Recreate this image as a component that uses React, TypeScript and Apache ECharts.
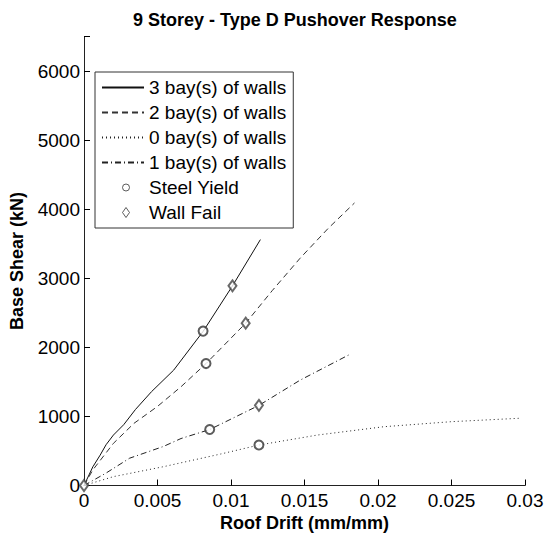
import React, { useEffect, useRef } from "react";
import * as echarts from "echarts";

const titleText = "9 Storey - Type D Pushover Response";
const xAxisName = "Roof Drift (mm/mm)";
const yAxisName = "Base Shear (kN)";

const curveNames = ["3 bay(s) of walls", "2 bay(s) of walls", "0 bay(s) of walls", "1 bay(s) of walls"];
const markerNames = ["Steel Yield", "Wall Fail"];

const bays3: number[][] = [
  [0, 0], [0.0006, 270], [0.0011, 440], [0.0015, 590], [0.002, 730], [0.0027, 880],
  [0.0035, 1100], [0.0046, 1360], [0.0061, 1670], [0.0081, 2230], [0.0101, 2890], [0.012, 3560],
];
const bays2: number[][] = [
  [0, 0], [0.0006, 225], [0.002, 610], [0.0034, 900], [0.005, 1145], [0.0066, 1430],
  [0.0083, 1765], [0.011, 2350], [0.0128, 2820], [0.0147, 3290], [0.0166, 3720], [0.0184, 4090],
];
const bays0: number[][] = [
  [0, 0], [0.002, 128], [0.0054, 272], [0.0093, 456], [0.0119, 586], [0.0159, 731],
  [0.0204, 851], [0.025, 924], [0.0296, 973],
];
const bays1: number[][] = [
  [0, 0], [0.0015, 180], [0.0031, 395], [0.0054, 565], [0.0066, 680], [0.00855, 810],
  [0.0119, 1160], [0.0147, 1525], [0.0181, 1900],
];
const steelYield: number[][] = [[0.0081, 2235], [0.0083, 1765], [0.0119, 586], [0.00855, 810]];
const wallFail: number[][] = [[0.0101, 2890], [0.011, 2350], [0, 0], [0.0119, 1160]];

const yTickMax = 6000;

const FONT = "'Liberation Sans', Arial, Helvetica, sans-serif";

// legend marker icons: invisible moveTo corners fix the icon box to the legend item box (42 x 12)
const circleIcon = "path://M0,0M42,12M27.5,6A3.5,3.5 0 1 1 20.5,6A3.5,3.5 0 1 1 27.5,6Z";
const diamondIcon = "path://M0,0M42,12M24,1L27.5,6L24,11L20.5,6Z";

export default function App() {
  const ref = useRef<HTMLDivElement>(null);
  useEffect(() => {
    if (!ref.current) return;
    const chart = echarts.init(ref.current, undefined, { renderer: "svg" });
    const lineDash: any[] = ["solid", [6, 4], [1, 3], [6, 3, 1, 3]];
    const lineColor = ["#111", "#333", "#222", "#222"];
    const curves = [bays3, bays2, bays0, bays1];
    const markerStyle = { color: "rgba(0,0,0,0)", borderColor: "#333", borderWidth: 1 };
    const tickStyle = { show: true, inside: true, length: 6, lineStyle: { color: "#000", width: 1, opacity: 1 } };
    const option: any = {
      animation: false,
      backgroundColor: "#fff",
      title: {
        text: titleText,
        left: 128,
        top: 6,
        textStyle: { fontFamily: FONT, fontSize: 18, fontWeight: "bold", color: "#000" },
      },
      grid: { left: 84, right: 20, top: 36.5, bottom: 49.5, outerBoundsMode: "none" },
      legend: {
        orient: "vertical",
        left: 95,
        top: 72,
        padding: [6, 7, 6, 6],
        itemWidth: 42,
        itemHeight: 12,
        itemGap: 6,
        borderColor: "#333",
        borderWidth: 1,
        backgroundColor: "#fff",
        textStyle: { fontFamily: FONT, fontSize: 19, color: "#000" },
        data: [
          ...curveNames.map((n) => ({ name: n, itemStyle: { opacity: 0 } })),
          { name: markerNames[0], icon: circleIcon, itemStyle: markerStyle },
          { name: markerNames[1], icon: diamondIcon, itemStyle: markerStyle },
        ],
      },
      xAxis: {
        type: "value",
        min: 0,
        max: 0.03,
        interval: 0.005,
        name: xAxisName,
        nameLocation: "middle",
        nameGap: 27,
        nameTextStyle: { fontFamily: FONT, fontSize: 18, fontWeight: "bold", color: "#000" },
        splitLine: { show: false },
        axisLine: { show: true, onZero: false, lineStyle: { color: "#222", width: 1 } },
        axisTick: tickStyle,
        axisLabel: {
          margin: 5,
          fontFamily: FONT,
          fontSize: 19,
          color: "#000",
          formatter: (v: number) => String(+v.toFixed(4)),
        },
      },
      yAxis: {
        type: "value",
        min: 0,
        max: 6500,
        interval: 1000,
        name: yAxisName,
        nameLocation: "middle",
        nameGap: 58,
        nameTextStyle: { fontFamily: FONT, fontSize: 18, fontWeight: "bold", color: "#000" },
        splitLine: { show: false },
        axisLine: { show: true, onZero: false, lineStyle: { color: "#222", width: 1 } },
        axisTick: tickStyle,
        axisLabel: {
          margin: 4,
          fontFamily: FONT,
          fontSize: 19,
          color: "#000",
          formatter: (v: number) => (v > yTickMax ? "" : String(Math.round(v))),
        },
      },
      series: [
        ...curves.map((d, i) => ({
          name: curveNames[i],
          type: "line",
          data: d,
          symbol: "none",
          showSymbol: false,
          smooth: false,
          lineStyle: { color: lineColor[i], width: 1, type: lineDash[i] },
          itemStyle: { color: lineColor[i] },
          z: 2,
        })),
        {
          name: markerNames[0],
          type: "scatter",
          data: steelYield,
          symbol: "emptyCircle",
          symbolSize: 9,
          itemStyle: { color: "#333", borderColor: "#333", borderWidth: 1 },
          z: 3,
        },
        {
          name: markerNames[1],
          type: "scatter",
          data: wallFail,
          symbol: "emptyDiamond",
          symbolSize: [8, 11],
          itemStyle: { color: "#444", borderColor: "#444", borderWidth: 1 },
          z: 3,
        },
      ],
    };
    chart.setOption(option);
    return () => chart.dispose();
  }, []);
  return (
    <div
      ref={ref}
      style={{ position: "fixed", left: 0, top: 0, width: 545, height: 535, background: "#fff" }}
    />
  );
}
